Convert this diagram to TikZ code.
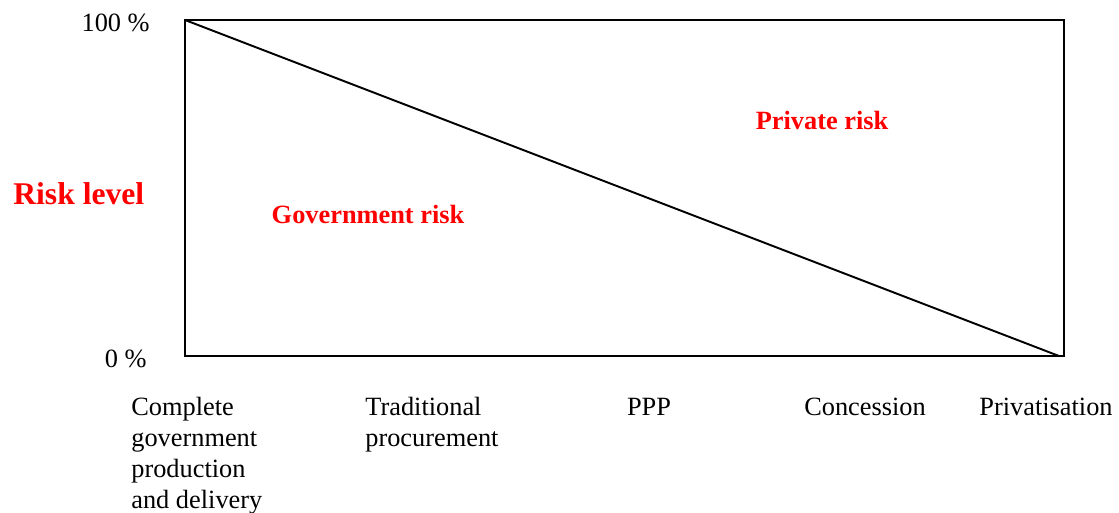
\documentclass[tikz,border=0pt]{standalone}
\usepackage{fontspec}
\setmainfont{Liberation Serif}
\begin{document}
\begin{tikzpicture}[x=0.02cm,y=-0.02cm,
    lbl/.style={font=\fontsize{15}{17.6}\selectfont, inner sep=0pt, align=left},
    risk/.style={font=\fontsize{15}{17.6}\selectfont\bfseries, text=red, inner sep=0pt}]
        \useasboundingbox (0,0) rectangle (1119,513);

        % frame and the split line
        \coordinate (tl) at (185,20);
        \coordinate (br) at (1059,356);
        \draw[black, line width=1.1pt] (185,20) rectangle (1064,356);
        \draw[black, line width=1.1pt] (tl) -- (br);

        % axis
        \node[lbl, anchor=base east] (top) at (150,32) {100 \%};
        \node[lbl, anchor=base east] (bottom) at (147,367) {0 \%};
        \node[risk, font=\fontsize{18}{20}\selectfont\bfseries, anchor=base west] (axis) at (13,205) {Risk level};

        % areas
        \node[risk, anchor=base] (gov) at (368,224) {Government risk};
        \node[risk, anchor=base] (priv) at (822,130) {Private risk};

        % forms along the bottom (base = last line)
        \node[lbl, anchor=base west] (complete) at (131,508) {Complete\\government\\production\\and delivery};
        \node[lbl, anchor=base west] (trad) at (365,446) {Traditional\\procurement};
        \node[lbl, anchor=base] (ppp) at (649,415) {PPP};
        \node[lbl, anchor=base] (conc) at (865,415) {Concession};
        \node[lbl, anchor=base] (priva) at (1046,415) {Privatisation};
    \end{tikzpicture}
\end{document}
